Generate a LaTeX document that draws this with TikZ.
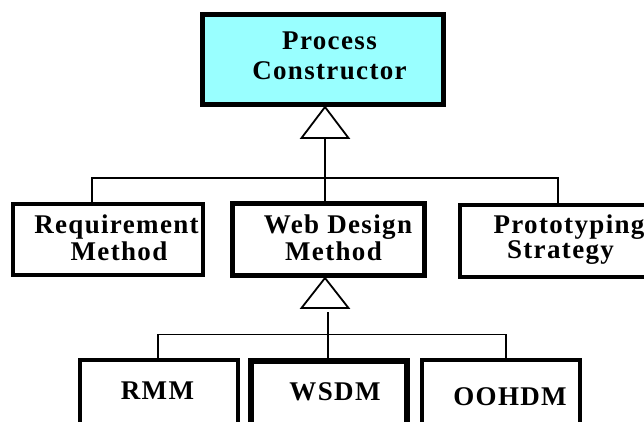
\documentclass[tikz,border=0pt]{standalone}
\usepackage{fontspec}
\newfontfamily\lblfont[LetterSpace=5]{Liberation Serif}
\usetikzlibrary{calc}
\definecolor{boxcyan}{HTML}{99FFFF}
\begin{document}
\begin{tikzpicture}[x=1pt,y=-1pt,
  box/.style={draw=black, rectangle, inner sep=0pt, fill=white},
  lbl/.style={font={\lblfont\bfseries\fontsize{27}{30}\selectfont}, anchor=base, inner sep=0pt},
  conn/.style={draw=black, line width=1.8pt},
  inh/.style={draw=black, line width=1.8pt, fill=white, line join=miter}]
\useasboundingbox (0,0) rectangle (644,422);
\clip (0,0) rectangle (644,422);
% boxes
\node[box, line width=5pt, fill=boxcyan, minimum width=241pt, minimum height=90pt] (pc) at (323,59.5) {};
\node[box, line width=4.5pt, minimum width=190pt, minimum height=71pt] (req) at (108,239.5) {};
\node[box, line width=5pt, minimum width=192pt, minimum height=72pt] (web) at (328.5,239.5) {};
\node[box, line width=4.5pt, minimum width=240pt, minimum height=72pt] (pro) at (580,240.75) {};
\node[box, line width=4pt, minimum width=158pt, minimum height=100pt] (rmm) at (159,410) {};
\node[box, line width=5.5pt, minimum width=156pt, minimum height=100pt] (wsdm) at (329,410.75) {};
\node[box, line width=4.3pt, minimum width=158pt, minimum height=100pt] (oohdm) at (501,410) {};
% labels
\node[lbl] (pc1) at (329.5,50) {Process};
\node[lbl] (pc2) at (329.5,80) {Constructor};
\node[lbl] (req1) at (116.5,233) {Requirement};
\node[lbl] (req2) at (119,260) {Method};
\node[lbl] (web1) at (338,233) {Web Design};
\node[lbl] (web2) at (333.5,260) {Method};
\node[lbl] (pro1) at (569,233) {Prototyping};
\node[lbl] (pro2) at (560.5,258.5) {Strategy};
\node[lbl] (rmm1) at (157.5,399) {RMM};
\node[lbl] (wsdm1) at (335,400) {WSDM};
\node[lbl] (oohdm1) at (510,405) {OOHDM};
% upper inheritance
\coordinate (a1) at ($(pc.south)+(2,0)$);
\draw[inh] (a1) -- ++(-23.5,31) -- ++(47,0) -- cycle;
\coordinate (b1) at ($(a1)+(0,31)$);
\draw[conn] (b1) -- (b1 |- web.north);
\coordinate (bus1) at ($(b1)+(0,40)$);
\coordinate (rq) at ($(req.north west)+(81,0)$);
\coordinate (pt) at ($(pro.north west)+(100,0)$);
\draw[conn] (rq) |- (bus1) -| (pt);
% lower inheritance
\coordinate (a2) at ($(web.south)+(-3.5,0)$);
\draw[inh] (a2) -- ++(-23.5,30) -- ++(47,0) -- cycle;
\coordinate (v2) at ($(a2)+(3,34)$);
\draw[conn] (v2) -- (v2 |- wsdm.north);
\coordinate (bus2) at ($(a2)+(0,56.5)$);
\coordinate (rm) at ($(rmm.north)+(-1,0)$);
\coordinate (oo) at ($(oohdm.north)+(5,0)$);
\draw[conn] (rm) |- (bus2) -| (oo);
\end{tikzpicture}
\end{document}
